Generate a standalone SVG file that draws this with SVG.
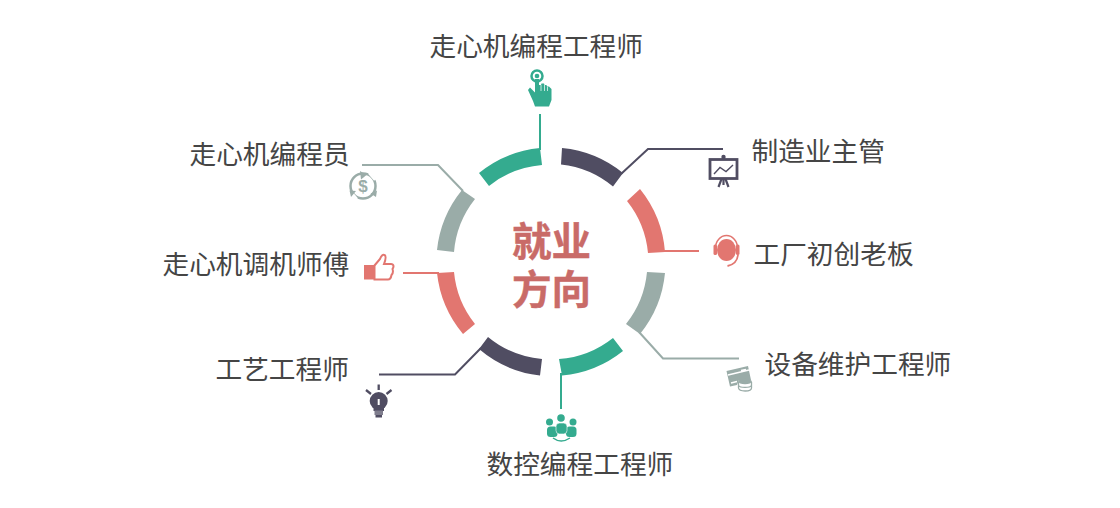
<svg xmlns="http://www.w3.org/2000/svg" width="1120" height="508" viewBox="0 0 1120 508">
<style>
.t{font-family:"Noto Sans CJK SC","Noto Sans",sans-serif;font-size:26.700px;fill:#454545}
.c{font-family:"Noto Sans CJK SC","Noto Sans",sans-serif;font-size:39.500px;font-weight:700;fill:#c96b68;stroke:#c96b68;stroke-width:.4}
.l{fill:none;stroke-width:2}
.gn{fill:#34ab8f}.dk{fill:#504d62}.rd{fill:#e27670}.gy{fill:#9aaca8}
.sgn{stroke:#34ab8f}.sdk{stroke:#504d62}.srd{stroke:#e27670}.sgy{stroke:#9aaca8}
</style>
<rect width="1120" height="508" fill="#fff"/>
<g id="connectors" class="l">
<path class="sgn" d="M540 114V150"/>
<path class="sdk" d="M621 174L648 149H723"/>
<path class="srd" d="M662 251H699"/>
<path class="sgy" d="M639 332L663 358.500H739"/>
<path class="sgn" d="M561 373V409"/>
<path class="sdk" d="M481 348L455 374.500H379"/>
<path class="srd" d="M439 273H403"/>
<path class="sgy" d="M463 191L438 165H362"/>
</g>
<g id="ring">
<path class="gn" d="M540 148L542 165A98 98 0 0 0 489 186L479 173A114 114 0 0 1 540 148Z"/>
<path class="dk" d="M562 148L561 164.500A98 98 0 0 1 613 186.500L623 173A114 114 0 0 0 562 148Z"/>
<path class="rd" d="M640 189L627 201A98 98 0 0 1 648 253L665 252A114 114 0 0 0 640 189Z"/>
<path class="gy" d="M665 273L647 272A98 98 0 0 1 626 324L640 334A114 114 0 0 0 665 273Z"/>
<path class="gn" d="M559 359L562 375.500A114 114 0 0 0 623 351L613 338A98 98 0 0 1 559 359Z"/>
<path class="dk" d="M542 359L540 375.500A114 114 0 0 1 479 349L488 337A98 98 0 0 0 542 359Z"/>
<path class="rd" d="M454 272L437 273A114 114 0 0 0 463 334L475 324A98 98 0 0 1 454 272Z"/>
<path class="gy" d="M475 199L462 190A114 114 0 0 0 437 250L454 252A98 98 0 0 1 475 199Z"/>
</g>
<g id="center">
<text class="c"><tspan x="512" y="255.500">就业</tspan><tspan x="512" y="303.500">方向</tspan></text>
</g>
<g id="node-top">
<text class="t" x="429.500" y="56">走心机编程工程师</text>
<circle cx="537" cy="76" r="5.500" fill="none" stroke="#34ab8f" stroke-width="2.500"/>
<circle cx="537" cy="76" r="2.300" class="gn"/>
<path class="gn" d="M535 79H539V85L541 85L541.500 83.500H544L544.500 85H546.500L547 86.500H549L551.500 89V100L549 106.500H535L533 101L528 90L530 87.500L535 92.500Z"/>
<path d="M541 85V91M544.500 85V91M547.500 87V91" stroke="#fff" stroke-width=".7" fill="none"/>
</g>
<g id="node-tr">
<text class="t" x="751.500" y="161">制造业主管</text>
<rect x="710" y="159.500" width="27" height="19" fill="none" stroke="#504d62" stroke-width="2.800"/>
<circle cx="723.500" cy="157" r="2.200" class="dk"/>
<path d="M714 174L720 167.500L726 171.500L733 165" fill="none" stroke="#504d62" stroke-width="1.400"/>
<path d="M721.500 179L718.500 187M725.500 179L728.500 187M723.500 179V185" fill="none" stroke="#504d62" stroke-width="2.200"/>
</g>
<g id="node-r">
<text class="t" x="753.500" y="264">工厂初创老板</text>
<ellipse cx="726.500" cy="250" rx="9.500" ry="11" class="rd"/>
<path d="M715.500 248A11 12.500 0 0 1 737.500 248" fill="none" stroke="#e27670" stroke-width="1.500"/>
<rect x="713.500" y="244.500" width="3.500" height="10.500" rx="1.500" class="rd"/>
<rect x="736" y="244.500" width="3.500" height="10.500" rx="1.500" class="rd"/>
<path d="M738 255Q737 264 727.500 266" fill="none" stroke="#e27670" stroke-width="1.800"/>
</g>
<g id="node-br">
<text class="t" x="764.500" y="374">设备维护工程师</text>
<path class="gy" d="M726.500 371L748 366L751 380L739 380L737 385L730 386.500Z"/>
<path d="M728 375L749 370M731 383L737 381.500M741 370.500L746 369.500" stroke="#fff" stroke-width="1.500" fill="none"/>
<path d="M738.500 382V388C739 392 751.500 392 751.500 388V382" fill="#fff" stroke="#9aaca8" stroke-width="1.300"/>
<ellipse cx="745" cy="381.500" rx="6.800" ry="2.800" class="gy"/>
<path d="M738.500 385.500C740 388 750 388 751.500 385.500" fill="none" stroke="#9aaca8" stroke-width="1.300"/>
</g>
<g id="node-b">
<text class="t" x="486.500" y="474">数控编程工程师</text>
<circle cx="561" cy="418" r="3.800" class="gn"/>
<circle cx="549.500" cy="422" r="3.500" class="gn"/>
<circle cx="573" cy="422" r="3.500" class="gn"/>
<rect x="547" y="426.500" width="10.500" height="10.500" rx="3.500" class="gn"/>
<rect x="566" y="426.500" width="10.500" height="10.500" rx="3.500" class="gn"/>
<rect x="556" y="423" width="11" height="11" rx="3.500" class="gn" stroke="#fff" stroke-width=".6"/>
<path d="M553 438Q561 444 570 438" fill="none" stroke="#34ab8f" stroke-width="1.500"/>
</g>
<g id="node-bl">
<text class="t" x="215.500" y="379">工艺工程师</text>
<circle cx="378.700" cy="401" r="9" class="dk"/>
<path class="dk" d="M373.500 405H384V411H373.500Z"/>
<rect x="374.500" y="410.500" width="8.500" height="4.500" fill="#7f7d8d"/>
<rect x="375.500" y="415" width="6.500" height="2.500" class="dk"/>
<path d="M378.700 399V405" stroke="#fff" stroke-width="2" fill="none"/>
<path d="M378.700 384.500V390M366 390L371 394M391.500 390L386.500 394" stroke="#504d62" stroke-width="2.300" fill="none"/>
</g>
<g id="node-l">
<text class="t" x="162.500" y="274">走心机调机师傅</text>
<rect x="364" y="265" width="10.500" height="14.500" class="rd"/>
<path d="M374.500 265.500L380 259C381 256 383 254 384.500 255C386.500 256 385.500 260 384 264H391C394 264 394 267 392.500 269C393.500 272 392.500 274 391.500 275C391 278 390 279.500 388 279.500H374.500Z" fill="#fff" stroke="#e27670" stroke-width="2"/>
</g>
<g id="node-tl">
<text class="t" x="189.500" y="164">走心机编程员</text>
<circle cx="363" cy="186" r="12.500" fill="none" stroke="#9aaca8" stroke-width="2.500"/>
<path d="M369 173L375 180M351 192L357 199" stroke="#fff" stroke-width="2.500" fill="none"/>
<path class="gy" d="M360 171L366.500 175L361 179.500ZM349.500 190.500L356 191L351 197ZM377 190.500L376 197L370.500 193.500Z"/>
<text x="363" y="192" font-family="Liberation Sans,sans-serif" font-size="17" font-weight="700" fill="#9aaca8" text-anchor="middle">$</text>
</g>
</svg>
